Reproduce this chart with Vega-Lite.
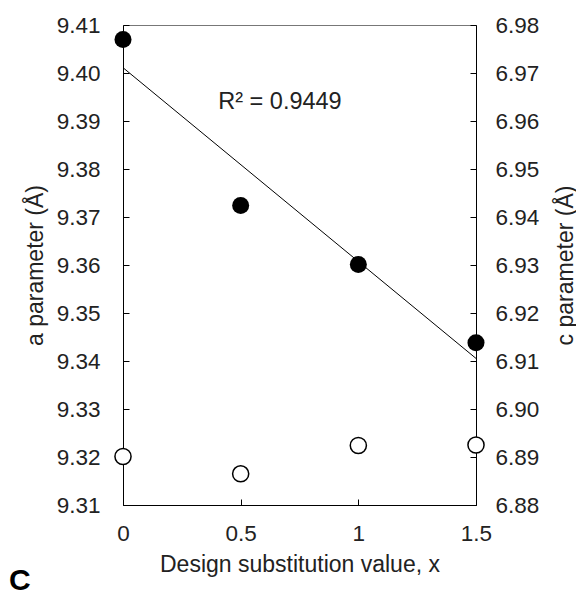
{
  "$schema": "https://vega.github.io/schema/vega-lite/v6.json",
  "autosize": "none",
  "width": 353,
  "height": 480,
  "padding": {"left": 123, "top": 25, "right": 100, "bottom": 92},
  "background": "white",
  "config": {
    "font": "Liberation Sans",
    "view": {"stroke": "#777", "strokeWidth": 1},
    "axis": {
      "grid": false,
      "domainColor": "black",
      "tickColor": "black",
      "labelColor": "#222",
      "titleColor": "#222",
      "labelFont": "Liberation Sans",
      "titleFont": "Liberation Sans",
      "labelFontSize": 22.5,
      "titleFontSize": 23,
      "titleFontWeight": "normal",
      "tickSize": -6
    }
  },
  "title": {
    "text": "C",
    "orient": "bottom",
    "anchor": "start",
    "frame": "group",
    "dx": -114,
    "offset": -11,
    "fontSize": 30,
    "fontWeight": "bold",
    "font": "Liberation Sans",
    "color": "black"
  },
  "datasets": {
    "a": [
      {"x": 0, "a": 9.407},
      {"x": 0.5, "a": 9.3724},
      {"x": 1, "a": 9.3601},
      {"x": 1.5, "a": 9.3438}
    ],
    "c": [
      {"x": 0, "c": 6.8901},
      {"x": 0.5, "c": 6.8865},
      {"x": 1, "c": 6.8924},
      {"x": 1.5, "c": 6.8925}
    ],
    "r2": [
      {"x": 0.667, "a": 9.394, "label": "R² = 0.9449"}
    ]
  },
  "layer": [
    {
      "layer": [
        {
          "data": {"name": "a"},
          "transform": [{"regression": "a", "on": "x", "extent": [0, 1.5]}],
          "mark": {"type": "line", "color": "black", "strokeWidth": 1},
          "encoding": {
            "x": {"field": "x", "type": "quantitative"},
            "y": {"field": "a", "type": "quantitative"}
          }
        },
        {
          "data": {"name": "a"},
          "mark": {"type": "point", "filled": true, "color": "black", "size": 290, "opacity": 1},
          "encoding": {
            "x": {
              "field": "x",
              "type": "quantitative",
              "scale": {"domain": [0, 1.5], "nice": false, "zero": false},
              "axis": {
                "values": [0, 0.5, 1, 1.5],
                "format": "~g",
                "title": "Design substitution value, x",
                "labelPadding": 23,
                "titlePadding": 9,
                "labelFlush": false
              }
            },
            "y": {
              "field": "a",
              "type": "quantitative",
              "scale": {"domain": [9.31, 9.41], "nice": false, "zero": false},
              "axis": {
                "values": [9.31, 9.32, 9.33, 9.34, 9.35, 9.36, 9.37, 9.38, 9.39, 9.4, 9.41],
                "format": ".2f",
                "title": "a parameter (Å)",
                "labelPadding": 29,
                "titleX": -88,
                "titleY": 240,
                "titleBaseline": "middle",
                "titleAlign": "center",
                "labelFlush": false
              }
            }
          }
        },
        {
          "data": {"name": "r2"},
          "mark": {"type": "text", "fontSize": 23.5, "font": "Liberation Sans", "color": "#222", "align": "center", "baseline": "middle"},
          "encoding": {
            "x": {"field": "x", "type": "quantitative"},
            "y": {"field": "a", "type": "quantitative"},
            "text": {"field": "label"}
          }
        }
      ]
    },
    {
      "data": {"name": "c"},
      "mark": {"type": "point", "filled": false, "fill": "white", "stroke": "black", "strokeWidth": 1.5, "size": 260, "opacity": 1},
      "encoding": {
        "x": {"field": "x", "type": "quantitative"},
        "y": {
          "field": "c",
          "type": "quantitative",
          "scale": {"domain": [6.88, 6.98], "nice": false, "zero": false},
          "axis": {
            "orient": "right",
            "values": [6.88, 6.89, 6.9, 6.91, 6.92, 6.93, 6.94, 6.95, 6.96, 6.97, 6.98],
            "format": ".2f",
            "title": "c parameter (Å)",
            "titleAngle": -90,
            "titleX": 89,
            "titleY": 240,
            "titleBaseline": "middle",
            "titleAlign": "center",
            "labelPadding": 25,
            "labelFlush": false
          }
        }
      }
    }
  ],
  "resolve": {"scale": {"y": "independent"}}
}
